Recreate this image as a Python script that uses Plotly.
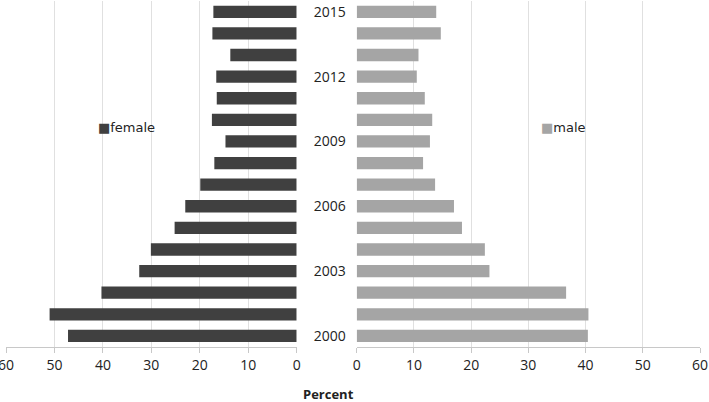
import plotly.graph_objects as go

years = list(range(2000, 2016))
female = [47.2, 51.0, 40.3, 32.5, 30.1, 25.2, 23.0, 19.9, 17.0, 14.7, 17.5, 16.5, 16.6, 13.7, 17.4, 17.2]
male = [40.4, 40.5, 36.6, 23.2, 22.4, 18.4, 17.0, 13.7, 11.6, 12.8, 13.2, 11.9, 10.5, 10.8, 14.7, 13.9]
year_ticks = [2000, 2003, 2006, 2009, 2012, 2015]
x_ticks = [0, 10, 20, 30, 40, 50, 60]

W, H = 709, 402
FEMALE_C = "#404040"
MALE_C = "#a5a5a5"
GRID_C = "#e0e0e0"
AXIS_C = "#c8c8c8"
FONT = "Open Sans"

fig = go.Figure()
fig.add_trace(go.Bar(y=years, x=female, orientation="h", marker=dict(color=FEMALE_C, line=dict(width=0)),
                     width=0.57, name="female", xaxis="x", yaxis="y", showlegend=False))
fig.add_trace(go.Bar(y=years, x=male, orientation="h", marker=dict(color=MALE_C, line=dict(width=0)),
                     width=0.57, name="male", xaxis="x2", yaxis="y2", showlegend=False))

ydom = [1 - 346.7 / H, 1 - 1 / H]
common_x = dict(tickvals=x_ticks, showgrid=True, gridcolor=GRID_C, gridwidth=1,
                showline=True, linecolor=AXIS_C, linewidth=1, ticks="outside", ticklen=5,
                tickcolor=AXIS_C, zeroline=False, tickfont=dict(family=FONT, size=14, color="#222"),
                fixedrange=True, automargin=False, ticklabeloverflow="allow")
fig.update_layout(
    width=W, height=H,
    margin=dict(l=0, r=0, t=0, b=0),
    paper_bgcolor="white", plot_bgcolor="white",
    xaxis=dict(domain=[6 / W, 296.7 / W], range=[60, 0], anchor="y", **common_x),
    xaxis2=dict(domain=[356.7 / W, 700 / W], range=[0, 60], anchor="y2", **common_x),
    yaxis=dict(domain=ydom, range=[1999.5, 2015.5], showticklabels=False, showgrid=False,
               zeroline=False, showline=False, anchor="x", automargin=False, fixedrange=True),
    yaxis2=dict(domain=ydom, range=[1999.5, 2015.5], anchor="x2", side="left",
                tickvals=year_ticks, ticktext=[str(y) for y in year_ticks], ticks="",
                showgrid=False, zeroline=False, showline=False, ticklabelstandoff=10,
                automargin=False, fixedrange=True, tickfont=dict(family=FONT, size=14, color="#222")),
    bargap=0.43,
    annotations=[
        dict(x=96 / W, y=1 - 127 / H, xref="paper", yref="paper", xanchor="left", yanchor="middle",
             text=f"<span style='color:{FEMALE_C};font-size:13px'>■</span>female", showarrow=False,
             font=dict(family="DejaVu Sans", size=13, color="#222")),
        dict(x=539 / W, y=1 - 127 / H, xref="paper", yref="paper", xanchor="left", yanchor="middle",
             text=f"<span style='color:{MALE_C};font-size:13px'>■</span>male", showarrow=False,
             font=dict(family="DejaVu Sans", size=13, color="#222")),
        dict(x=328 / W, y=1 - 394 / H, xref="paper", yref="paper", xanchor="center", yanchor="middle",
             text="<b>Percent</b>", showarrow=False, font=dict(family=FONT, size=13, color="#222")),
    ],
)

fig.write_html("out.html", config={"displayModeBar": False},
               post_script="document.body.style.margin='0px';document.body.style.overflow='hidden';")
